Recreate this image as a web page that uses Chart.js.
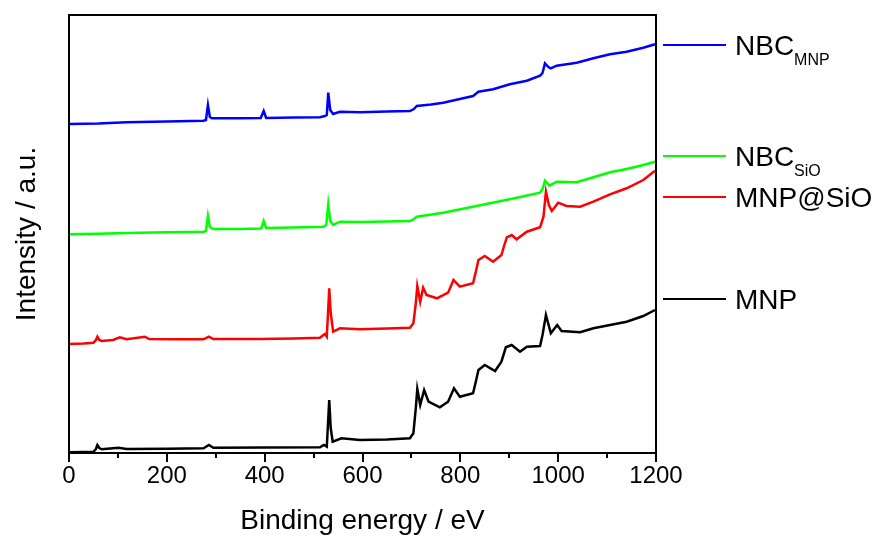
<!DOCTYPE html>
<html>
<head>
<meta charset="utf-8">
<script src="https://cdn.jsdelivr.net/npm/chart.js@4"></script>
<style>
  body { margin: 0; background: #fff; }
  canvas { display: block; }
</style>
</head>
<body>
<canvas id="xpsChart" width="872" height="538"></canvas>
<script>
// XPS survey spectra (intensity in arbitrary units)
const majorTicks = [0, 200, 400, 600, 800, 1000, 1200];

const nbcMnp = [[0,329],[60,329.5],[118,330.7],[200,331.5],[275,332.3],[280,333],[284,348],[288,336],[292,334.7],
  [350,334.7],[392,335],[398,342],[403,335],[460,335.5],[513,335.7],[523,337],[527,338],[530,360.3],[534,343],
  [540,339],[554,341.3],[595,340.7],[650,341.5],[697,342],[705,344],[711,347],[740,348.5],[765,350.3],[799,354],
  [826,357],[837,361.3],[867,363.7],[901,368.7],[936,372.3],[963,377.3],[968,380],[973,389.7],[980,386],[985,384.7],
  [997,387.3],[1038,390.3],[1072,394.7],[1106,398.7],[1140,401.3],[1174,405.3],[1198,408.7]];

const nbcSio = [[0,218.7],[60,219.3],[118,220],[200,220.7],[275,221.3],[280,222],[284,237],[288,226],[295,224],
  [350,224],[393,224.5],[398,232],[403,225],[460,225.5],[520,226.3],[526,228],[530,248.7],[534,232],[540,228],
  [554,231.3],[595,231],[650,231.5],[697,232],[705,234],[711,236.3],[765,240.3],[833,247],[901,253.7],[963,260.3],
  [968,264],[973,272.3],[982,267.3],[997,271.3],[1038,270.7],[1072,275.7],[1106,280.7],[1140,284],[1174,288],[1198,291.3]];

const mnpSio = [[0,109],[30,109.5],[50,110.3],[55,113],[58,116.3],[62,113],[67,112],[90,113],[104,115.7],[118,113.7],
  [155,116.3],[164,114],[220,113.8],[275,113.7],[286,116.3],[295,114],[390,114],[460,114.5],[513,115.3],[520,118],
  [523,119],[527,116.3],[529,135],[532,164.7],[535,140],[540,121.3],[554,124.7],[595,123.7],[650,124.5],[697,125.3],
  [704,129.7],[709,150],[712,167],[718,151.3],[724,165.3],[731,158],[752,154.7],[775,160.3],[786,173],[799,166.3],
  [826,169.7],[832,182],[837,193],[850,197],[867,191.3],[884,198],[890,208],[895,215.7],[905,218],[915,213.7],
  [936,221.3],[963,225.7],[970,236.3],[975,261.3],[981,248],[987,242],[1000,250.3],[1017,247],[1045,246.3],
  [1072,251.3],[1106,258.7],[1140,264.7],[1174,273],[1198,282.3]];

const mnp = [[0,0.8],[30,1],[50,1.2],[55,4],[58,8],[62,5],[67,3.7],[101,5.3],[118,4],[200,4.3],[275,4.7],[286,8],
  [295,5.3],[400,5.5],[513,5.7],[521,8],[527,6.3],[529,25],[532,53],[535,25],[539,11.3],[557,14.7],[595,13],
  [650,13.5],[697,14.7],[704,19.7],[709,45],[712,64],[718,48],[726,63],[735,51.3],[758,45.7],[775,51.3],[787,64.7],
  [799,56.3],[826,59.7],[832,72],[837,83],[850,88],[871,82],[884,91.3],[893,105.7],[905,108],[922,101.3],[936,106.3],
  [963,107],[968,118],[975,138],[985,119.7],[998,128],[1007,122],[1045,120.7],[1072,124.7],[1106,128],[1140,131.3],
  [1174,137],[1198,143]];

const legendLabels = ['NBC', 'NBC', 'MNP@SiO', 'MNP'];
const legendSubs = ['MNP', 'SiO', '', ''];
const seriesColors = ['#0000ff', '#00ff00', '#ff0000', '#000000'];

const FONT = 'Arial, "Liberation Sans", sans-serif';

function toPoints(arr) {
  return arr.map(p => ({ x: p[0], y: p[1] }));
}

// frame, outward ticks and the hand-placed legend on the right
const framePlugin = {
  id: 'frame',
  afterDraw(chart) {
    const { ctx, chartArea: a } = chart;
    const xs = chart.scales.x;
    ctx.save();
    ctx.strokeStyle = '#000';
    ctx.lineWidth = 2;
    ctx.strokeRect(a.left, a.top, a.right - a.left, a.bottom - a.top);
    ctx.beginPath();
    for (let v = 0; v <= 1200; v += 100) {
      const px = Math.round(xs.getPixelForValue(v));
      const len = majorTicks.includes(v) ? 9 : 5;
      ctx.moveTo(px, a.bottom);
      ctx.lineTo(px, a.bottom + len);
    }
    ctx.stroke();

    const rows = [45, 156, 197, 299];
    ctx.textBaseline = 'alphabetic';
    rows.forEach((y, i) => {
      ctx.strokeStyle = seriesColors[i];
      ctx.lineWidth = 2;
      ctx.beginPath();
      ctx.moveTo(663, y);
      ctx.lineTo(726, y);
      ctx.stroke();
      ctx.fillStyle = '#000';
      ctx.font = '28px ' + FONT;
      ctx.fillText(legendLabels[i], 735, y + 10);
      if (legendSubs[i]) {
        const w = ctx.measureText(legendLabels[i]).width;
        ctx.font = '16px ' + FONT;
        ctx.fillText(legendSubs[i], 735 + w, y + 20);
      }
    });
    ctx.restore();
  }
};

new Chart(document.getElementById('xpsChart'), {
  type: 'line',
  data: {
    datasets: [nbcMnp, nbcSio, mnpSio, mnp].map((d, i) => ({
      label: legendLabels[i] + legendSubs[i],
      data: toPoints(d),
      borderColor: seriesColors[i],
      borderWidth: 2.5,
      pointRadius: 0,
      tension: 0,
      fill: false
    }))
  },
  options: {
    responsive: false,
    animation: false,
    devicePixelRatio: 1,
    layout: { padding: { top: 15, right: 216, left: 0, bottom: 0 } },
    plugins: { legend: { display: false }, tooltip: { enabled: false } },
    scales: {
      x: {
        type: 'linear',
        min: 0,
        max: 1200,
        afterFit: s => { s.height = 85; },
        grid: { display: false, drawTicks: false },
        border: { display: false },
        ticks: {
          stepSize: 100,
          autoSkip: false,
          maxRotation: 0,
          padding: 9,
          color: '#000',
          font: { family: FONT, size: 24 },
          callback: v => majorTicks.includes(v) ? String(v) : ''
        },
        title: {
          display: true,
          text: 'Binding energy / eV',
          color: '#000',
          font: { family: FONT, size: 28 },
          padding: { top: 0, bottom: 0 }
        }
      },
      y: {
        min: 0,
        max: 438,
        afterFit: s => { s.width = 69; },
        grid: { display: false, drawTicks: false },
        border: { display: false },
        ticks: { display: false },
        title: {
          display: true,
          text: 'Intensity / a.u.',
          color: '#000',
          font: { family: FONT, size: 28 },
          padding: { top: 10, bottom: 0 }
        }
      }
    }
  },
  plugins: [framePlugin]
});
</script>
</body>
</html>
